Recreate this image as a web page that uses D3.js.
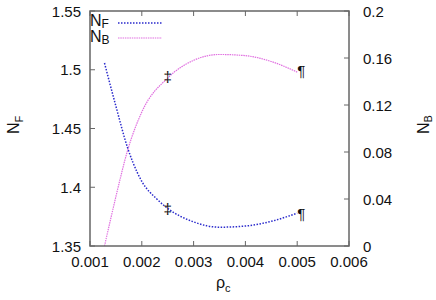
<!DOCTYPE html>
<html>
<head>
<meta charset="utf-8">
<script src="https://cdn.jsdelivr.net/npm/d3@7"></script>
<style>
  body { margin: 0; background: #fff; }
  text { font-family: "Liberation Sans", Arial, sans-serif; fill: #111; }
</style>
</head>
<body>
<script>
var rho = [0.00128, 0.0015, 0.00173, 0.00183, 0.002, 0.00229, 0.0025, 0.003, 0.0035, 0.004, 0.0045, 0.005];
var nF  = [1.5057, 1.469, 1.433, 1.421, 1.405, 1.390, 1.382, 1.3705, 1.366, 1.367, 1.371, 1.378];
var rhoB = [0.00128, 0.0015, 0.00173, 0.002, 0.0025, 0.003, 0.0035, 0.004, 0.0045, 0.005];
var nB   = [0.0, 0.042, 0.082, 0.114, 0.143, 0.158, 0.163, 0.162, 0.157, 0.148];
var xTicks  = [0.001, 0.002, 0.003, 0.004, 0.005, 0.006];
var yTicks  = [1.35, 1.4, 1.45, 1.5, 1.55];
var y2Ticks = [0, 0.04, 0.08, 0.12, 0.16, 0.2];
var marks = [{x: 0.0025, sym: "\u2021"}, {x: 0.005, sym: "\u00b6"}];

function draw() {
  var w = 436, h = 300;
  var pL = 90, pR = 349, pT = 11, pB = 246;

  var svg = d3.select("body").append("svg")
    .attr("width", w).attr("height", h);

  var x = d3.scaleLinear().domain([0.001, 0.006]).range([pL, pR]);
  var y = d3.scaleLinear().domain([1.35, 1.55]).range([pB, pT]);
  var y2 = d3.scaleLinear().domain([0, 0.2]).range([pB, pT]);

  var fmt = d3.format("");
  var tl = 5;

  // ticks (inward)
  var ax = svg.append("g").attr("stroke", "#666").attr("stroke-width", 1);
  ax.selectAll(".xb").data(xTicks).enter().append("line")
    .attr("x1", d => x(d)).attr("x2", d => x(d)).attr("y1", pB).attr("y2", pB - tl);
  ax.selectAll(".xt").data(xTicks).enter().append("line")
    .attr("x1", d => x(d)).attr("x2", d => x(d)).attr("y1", pT).attr("y2", pT + tl);
  ax.selectAll(".yl").data(yTicks).enter().append("line")
    .attr("x1", pL).attr("x2", pL + tl).attr("y1", d => y(d)).attr("y2", d => y(d));
  ax.selectAll(".yr").data(y2Ticks).enter().append("line")
    .attr("x1", pR).attr("x2", pR - tl).attr("y1", d => y2(d)).attr("y2", d => y2(d));

  // tick labels
  var tx = svg.append("g").style("font-size", "15px");
  tx.selectAll(".xl").data(xTicks).enter().append("text")
    .attr("x", d => x(d)).attr("y", 267).attr("text-anchor", "middle")
    .text(d => fmt(d));
  tx.selectAll(".yl").data(yTicks).enter().append("text")
    .attr("x", 81).attr("y", d => y(d) + 5.5).attr("text-anchor", "end")
    .text(d => fmt(d));
  tx.selectAll(".y2l").data(y2Ticks).enter().append("text")
    .attr("x", 363).attr("y", d => y2(d) + 5.5).attr("text-anchor", "start")
    .text(d => fmt(d));

  // clip
  svg.append("clipPath").attr("id", "clip").append("rect")
    .attr("x", pL).attr("y", pT).attr("width", pR - pL).attr("height", pB - pT);

  var g = svg.append("g").attr("clip-path", "url(#clip)");

  var lineF = d3.line().x((d, i) => x(rho[i])).y(d => y(d)).curve(d3.curveMonotoneX);
  var lineB = d3.line().x((d, i) => x(rhoB[i])).y(d => y2(d)).curve(d3.curveMonotoneX);

  g.append("path").attr("d", lineB(nB))
    .attr("fill", "none").attr("stroke", "#e070e0").attr("stroke-width", 1.2)
    .attr("stroke-dasharray", "1.5,0.8");
  g.append("path").attr("d", lineF(nF))
    .attr("fill", "none").attr("stroke", "#2a2acc").attr("stroke-width", 1.5)
    .attr("stroke-dasharray", "1.5,1.5");

  // point markers
  var mk = svg.append("g").style("font-size", "15px");
  mk.selectAll(".mf").data(marks).enter().append("text")
    .attr("x", d => x(d.x) + (d.sym == "\u00b6" ? 4 : 0))
    .attr("y", d => y(nF[rho.indexOf(d.x)]) + 6)
    .attr("text-anchor", "middle").text(d => d.sym);
  mk.selectAll(".mb").data(marks).enter().append("text")
    .attr("x", d => x(d.x) + (d.sym == "\u00b6" ? 4 : 0))
    .attr("y", d => y2(nB[rhoB.indexOf(d.x)]) + 4)
    .attr("text-anchor", "middle").text(d => d.sym);

  // frame
  svg.append("rect").attr("x", pL).attr("y", pT)
    .attr("width", pR - pL).attr("height", pB - pT)
    .attr("fill", "none").attr("stroke", "#666").attr("stroke-width", 1.5);

  // legend
  var lg = svg.append("g");
  var lt1 = lg.append("text").attr("x", 90).attr("y", 26).style("font-size", "16px");
  lt1.append("tspan").text("N");
  lt1.append("tspan").attr("dy", 2).style("font-size", "12px").text("F");
  var lt2 = lg.append("text").attr("x", 90).attr("y", 42).style("font-size", "16px");
  lt2.append("tspan").text("N");
  lt2.append("tspan").attr("dy", 2).style("font-size", "12px").text("B");
  lg.append("line").attr("x1", 118).attr("x2", 162).attr("y1", 23).attr("y2", 23)
    .attr("stroke", "#2a2acc").attr("stroke-width", 1.5).attr("stroke-dasharray", "1.5,1.5");
  lg.append("line").attr("x1", 118).attr("x2", 162).attr("y1", 38).attr("y2", 38)
    .attr("stroke", "#e070e0").attr("stroke-width", 1.2).attr("stroke-dasharray", "1.5,0.8");

  // axis labels
  var yl = svg.append("text").attr("transform", "translate(19,134) rotate(-90)")
    .style("font-size", "16px");
  yl.append("tspan").text("N");
  yl.append("tspan").attr("dy", 4).style("font-size", "11px").text("F");

  var y2l = svg.append("text").attr("transform", "translate(429,134) rotate(-90)")
    .style("font-size", "16px");
  y2l.append("tspan").text("N");
  y2l.append("tspan").attr("dy", 3).style("font-size", "11px").text("B");

  var xl = svg.append("text").attr("x", 216).attr("y", 288).style("font-size", "16px");
  xl.append("tspan").text("\u03c1");
  xl.append("tspan").attr("dy", 4).style("font-size", "11px").text("c");
}

draw();
</script>
</body>
</html>
